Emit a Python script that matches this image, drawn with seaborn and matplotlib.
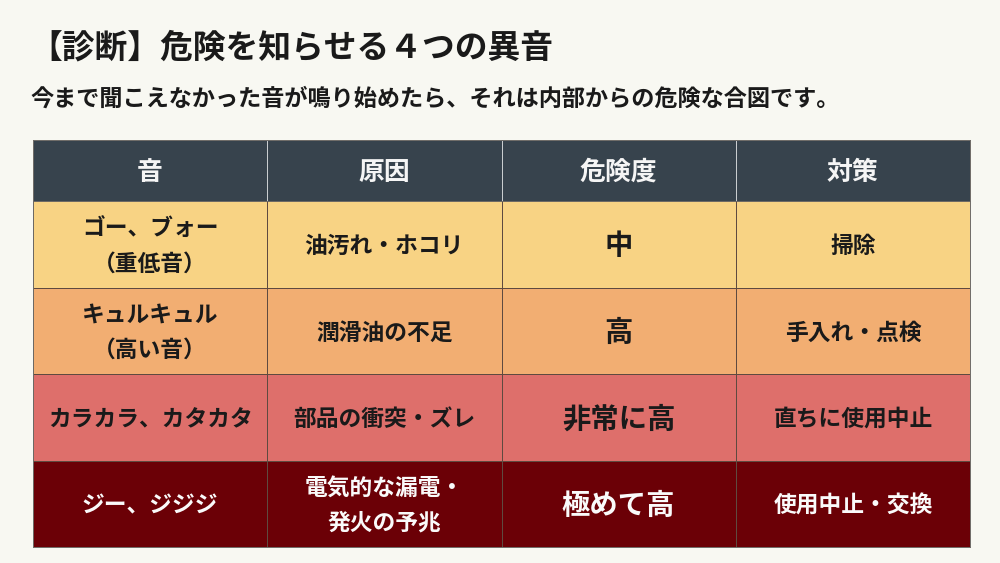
"""
Table of abnormal sounds, drawn as two seaborn heatmaps.
"""

import matplotlib
matplotlib.use('Agg')
import matplotlib.pyplot as plt
import numpy as np
import seaborn as sns
from matplotlib.colors import ListedColormap

title = '【診断】危険を知らせる４つの異音'
subtitle = '今まで聞こえなかった音が鳴り始めたら、それは内部からの危険な合図です。'

headers = ['音', '原因', '危険度', '対策']
sounds = ['ゴー、ブォー\n（重低音）', 'キュルキュル\n（高い音）', 'カラカラ、カタカタ', 'ジー、ジジジ']
causes = ['油汚れ・ホコリ', '潤滑油の不足', '部品の衝突・ズレ', '電気的な漏電・\n発火の予兆']
risks = ['中', '高', '非常に高', '極めて高']
actions = ['掃除', '手入れ・点検', '直ちに使用中止', '使用中止・交換']
levels = [0, 1, 2, 3]

level_colors = ['#F8D384', '#F2AE72', '#DE6F6B', '#6B0006']
text_colors = ['#1A1A1A', '#1A1A1A', '#1A1A1A', '#FAFAFA']
column_sizes = [16.4, 16.4, 20.4, 16.4]

BACKGROUND = '#F8F8F2'
HEADER_COLOR = '#37434D'

sns.set_theme(style='white')
plt.rcParams['font.family'] = ['Noto Sans CJK JP', 'DejaVu Sans']

fig = plt.figure(figsize=(10, 5.63), dpi=100, facecolor=BACKGROUND)

# header row
ax_head = fig.add_axes([33 / 1000, 1 - 201 / 563, 937 / 1000, 61 / 563])
sns.heatmap(
    np.zeros((1, 4)),
    ax=ax_head,
    cmap=ListedColormap([HEADER_COLOR]),
    cbar=False,
    annot=np.array([headers]),
    fmt='',
    linewidths=0.7,
    linecolor='#C9CDD0',
    xticklabels=False,
    yticklabels=False,
    annot_kws={'fontsize': 18.6, 'fontweight': 'bold', 'color': '#F5F5F5'}
)
for label in ax_head.texts:
    label.set_y(label.get_position()[1] + 0.03)

# body rows, one colour per danger level
body_text = np.array([sounds, causes, risks, actions]).T
body_levels = np.tile(np.array(levels).reshape(-1, 1), (1, 4))
ax_body = fig.add_axes([33 / 1000, 1 - 547 / 563, 937 / 1000, 346 / 563])
sns.heatmap(
    body_levels,
    ax=ax_body,
    cmap=ListedColormap(level_colors),
    vmin=0,
    vmax=3,
    cbar=False,
    annot=body_text,
    fmt='',
    linewidths=0.7,
    linecolor='#5F4A40',
    xticklabels=False,
    yticklabels=False,
    annot_kws={'fontweight': 'bold'}
)
for i, label in enumerate(ax_body.texts):
    row, col = divmod(i, 4)
    label.set_color(text_colors[row])
    label.set_fontsize(column_sizes[col])
    label.set_linespacing(1.65)
    label.set_y(label.get_position()[1] + 0.025)

for ax in (ax_head, ax_body):
    for spine in ax.spines.values():
        spine.set_visible(True)
        spine.set_color('#6E6A66')
        spine.set_linewidth(0.7)

fig.text(29 / 1000, 1 - 47.5 / 563, title, fontsize=23.6, fontweight='bold',
         color='#1A1A1A', va='center', ha='left')
fig.text(30 / 1000, 1 - 99.5 / 563, subtitle, fontsize=16.7, fontweight='bold',
         color='#1A1A1A', va='center', ha='left')

fig.savefig('out.png', dpi=100, facecolor=BACKGROUND)
